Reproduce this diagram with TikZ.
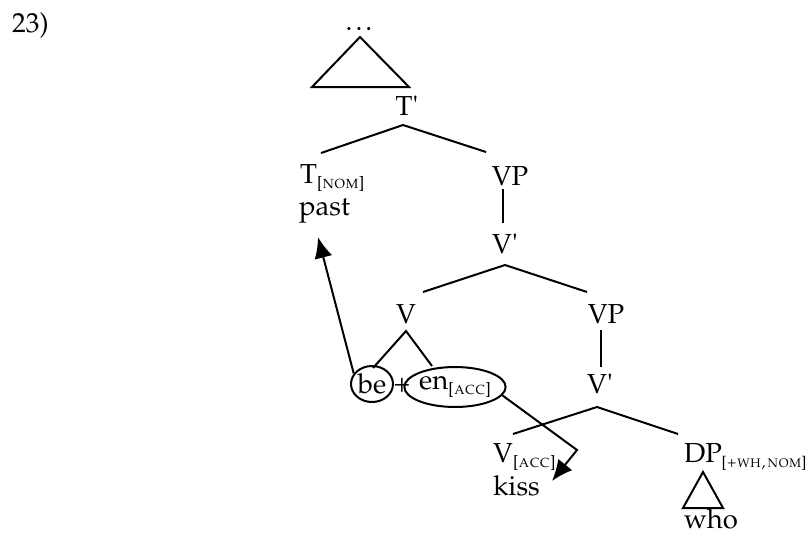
\documentclass[tikz,border=0pt]{standalone}
\usepackage[T1]{fontenc}
\usepackage{mathpazo}
\usetikzlibrary{shapes.geometric,arrows.meta}
\newcommand{\featsub}[1]{\raisebox{-5pt}{\fontsize{16.5}{17}\selectfont[\textsc{#1}]}}
\newcommand{\featsubs}[1]{\raisebox{-5pt}{\fontsize{15.5}{17}\selectfont[\textsc{#1}]}}
\newcommand{\primemark}{\textquotesingle}
\tikzset{
  lab/.style={inner sep=0pt, font=\fontsize{27.5}{30}\selectfont},
  br/.style={line width=2pt},
  oval/.style={draw, ellipse, line width=2pt, inner sep=0pt, font=\fontsize{27.5}{30}\selectfont},
  arr/.style={line width=2pt, -{Latex[length=21pt,width=18pt]}}
}
\begin{document}
\begin{tikzpicture}[x=1pt,y=-1pt]
\useasboundingbox (0,0) rectangle (810,535);
% labels
\node[lab, anchor=base west] (num) at (12,33) {23)};
\node[lab, anchor=base] (dots) at (359,31) {.\kern3pt.\kern3pt.};
\node[lab, anchor=base] (Tbar) at (407,115) {T\primemark};
\node[lab, anchor=base west] (T) at (300,183) {T\featsub{nom}};
\node[lab, anchor=base west] (past) at (299,215) {past};
\node[lab, anchor=base] (VP1) at (510,185) {VP};
\node[lab, anchor=base] (Vbar1) at (505,253) {V\primemark};
\node[lab, anchor=base] (V) at (406,323) {V};
\node[lab, anchor=base] (VP2) at (606,323) {VP};
\node[oval, minimum width=42pt, minimum height=36pt] (be) at (372,384) {be};
\node[lab] (plus) at (402,385) {+};
\node[oval, minimum width=84pt, minimum height=40pt] (en) at (455,387) {en\featsub{acc}};
\node[lab, anchor=base] (Vbar2) at (600,393) {V\primemark};
\node[lab, anchor=base west] (Vk) at (493,462) {V\featsub{acc}};
\node[lab, anchor=base west] (kiss) at (493,495) {kiss};
\node[lab, anchor=base west] (DP) at (684,462) {DP\kern-0.5pt\featsubs{+wh,\kern1.5pt nom}};
\node[lab, anchor=base] (who) at (711,528) {who};
% coordinates
\coordinate (triA) at (360,37);
\coordinate (triL) at (312,87);
\coordinate (triR) at (409,87);
\coordinate (tbA) at (403,125);
\coordinate (tbL) at (321,153);
\coordinate (tbR) at (486,152);
\coordinate (vp1T) at (503,189);
\coordinate (vp1B) at (503,223);
\coordinate (vb1A) at (505,265);
\coordinate (vb1L) at (423,292);
\coordinate (vb1R) at (587,292);
\coordinate (vA) at (406,331);
\coordinate (vL) at (373,368);
\coordinate (vR) at (432,366);
\coordinate (vp2T) at (601,330);
\coordinate (vp2B) at (601,367);
\coordinate (vb2A) at (597,407);
\coordinate (vb2L) at (513,434);
\coordinate (vb2R) at (678,434);
\coordinate (dpA) at (703,472);
\coordinate (dpL) at (683,508);
\coordinate (dpR) at (723,508);
\coordinate (tipT) at (318,237);
\coordinate (bend) at (577,450);
\coordinate (tipK) at (552,481);
% tree lines
\draw[br] (triL) -- (triA) -- (triR) -- cycle;
\draw[br] (tbL) -- (tbA) -- (tbR);
\draw[br] (vp1T) -- (vp1B);
\draw[br] (vb1L) -- (vb1A) -- (vb1R);
\draw[br] (vL) -- (vA) -- (vR);
\draw[br] (vp2T) -- (vp2B);
\draw[br] (vb2L) -- (vb2A) -- (vb2R);
\draw[br] (dpL) -- (dpA) -- (dpR) -- cycle;
% movement arrows
\draw[arr] (be.150) -- (tipT);
\draw[arr] (en.-10) -- (bend) -- (tipK);
\end{tikzpicture}
\end{document}
